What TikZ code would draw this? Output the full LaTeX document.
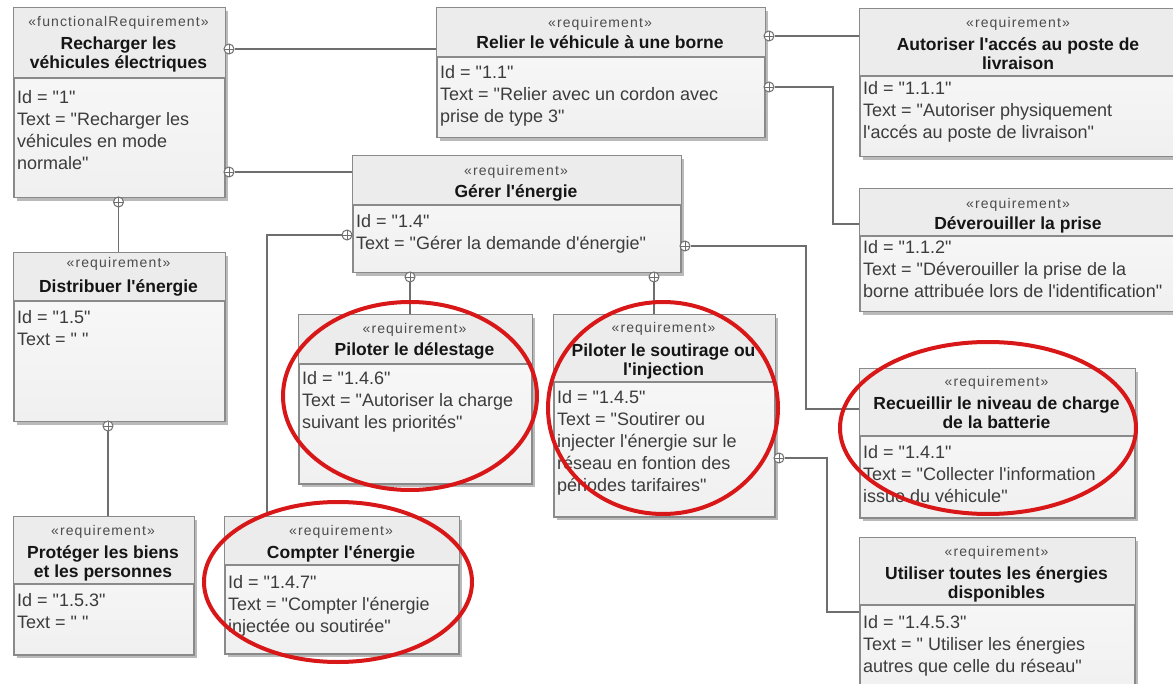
\documentclass[tikz,border=0pt]{standalone}
\usepackage{fontspec}
\newfontfamily\diagfont{Liberation Sans}
\newfontfamily\stereofont[LetterSpace=8]{Liberation Sans}
\usetikzlibrary{shadows}
\definecolor{boxline}{HTML}{8A8A8A}
\definecolor{connline}{HTML}{6E6E6E}
\definecolor{headfill}{HTML}{ECECEC}
\definecolor{bodytop}{HTML}{FAFAFA}
\definecolor{bodybot}{HTML}{F0F0F0}
\definecolor{redmark}{HTML}{D81818}
\definecolor{txtbody}{HTML}{3C3C3C}
\definecolor{txttitle}{HTML}{151515}
\tikzset{
  reqbox/.style={rectangle, draw=boxline, line width=1.5pt, inner sep=0pt,
    top color=bodytop, bottom color=bodybot,
    drop shadow={shadow xshift=3pt, shadow yshift=-3pt, fill=black!45, opacity=0.6}},
  sepline/.style={draw=boxline, line width=1.5pt},
  reqstereo/.style={font=\stereofont\fontsize{14}{16}\selectfont, text=black!70, anchor=base, inner sep=0pt},
  reqtitle/.style={font=\diagfont\fontsize{17.5}{19}\selectfont\bfseries, text=txttitle, anchor=base, inner sep=0pt, align=center},
  reqbody/.style={font=\diagfont\fontsize{18}{22}\selectfont, text=txtbody, anchor=base west, inner sep=0pt, align=left},
  plusmark/.style={circle, draw=connline, fill=white, line width=1pt, minimum size=10pt, inner sep=0pt,
    path picture={\draw[connline, line width=0.9pt]
      (path picture bounding box.north) -- (path picture bounding box.south)
      (path picture bounding box.west) -- (path picture bounding box.east);}},
  link/.style={draw=connline, line width=1.3pt},
  redring/.style={draw=redmark, line width=4pt}
}
\newcommand{\reqheader}[2]{%
  \fill[headfill] ([shift={(0.75pt,-0.75pt)}]#1.north west) rectangle ([shift={(-0.75pt,-#2pt)}]#1.north east);
  \draw[sepline] ([yshift=-#2pt]#1.north west) -- ([yshift=-#2pt]#1.north east);}
\begin{document}
\begin{tikzpicture}[x=1pt,y=-1pt]
\path[use as bounding box, fill=white] (0,0) rectangle (1173,684);
\begin{scope}
\clip (0,0) rectangle (1173,684);
% ---------- boxes ----------
\node[reqbox, minimum width=211pt, minimum height=190pt, anchor=north west] (b1) at (13,7) {};
\reqheader{b1}{71}
\node[reqbox, minimum width=328pt, minimum height=130pt, anchor=north west] (b2) at (436,7) {};
\reqheader{b2}{50}
\node[reqbox, minimum width=320pt, minimum height=148pt, anchor=north west] (b3) at (859,8) {};
\reqheader{b3}{68}
\node[reqbox, minimum width=320pt, minimum height=123pt, anchor=north west] (b4) at (859,188) {};
\reqheader{b4}{48}
\node[reqbox, minimum width=328pt, minimum height=117pt, anchor=north west] (b5) at (352,155) {};
\reqheader{b5}{50}
\node[reqbox, minimum width=211pt, minimum height=169pt, anchor=north west] (b6) at (13,252) {};
\reqheader{b6}{49}
\node[reqbox, minimum width=180pt, minimum height=138pt, anchor=north west] (b7) at (13,516) {};
\reqheader{b7}{68}
\node[reqbox, minimum width=234pt, minimum height=137pt, anchor=north west] (b8) at (224,516) {};
\reqheader{b8}{49}
\node[reqbox, minimum width=233pt, minimum height=169pt, anchor=north west] (b9) at (298,314) {};
\reqheader{b9}{50}
\node[reqbox, minimum width=221pt, minimum height=202pt, anchor=north west] (b10) at (553,314) {};
\reqheader{b10}{68}
\node[reqbox, minimum width=275pt, minimum height=149pt, anchor=north west] (b11) at (859,368) {};
\reqheader{b11}{68}
\node[reqbox, minimum width=275pt, minimum height=160pt, anchor=north west] (b12) at (859,537) {};
\reqheader{b12}{68}
% ---------- texts (base = baseline of the last line) ----------
\node[reqstereo] (b1s) at (118.5,27) {«functionalRequirement»};
\node[reqtitle] (b1t) at (118.5,69) {Recharger les\\véhicules électriques};
\node[reqbody] (b1b) at (17,169.5) {Id = "1"\\Text = "Recharger les\\véhicules en mode\\normale"};

\node[reqstereo] (b2s) at (600,28) {«requirement»};
\node[reqtitle] (b2t) at (600,49) {Relier le véhicule à une borne};
\node[reqbody] (b2b) at (440,122.5) {Id = "1.1"\\Text = "Relier avec un cordon avec\\prise de type 3"};

\node[reqstereo] (b3s) at (1018,28) {«requirement»};
\node[reqtitle] (b3t) at (1018,70) {Autoriser l'accés au poste de\\livraison};
\node[reqbody] (b3b) at (863,138.5) {Id = "1.1.1"\\Text = "Autoriser physiquement\\l'accés au poste de livraison"};

\node[reqstereo] (b4s) at (1018,209) {«requirement»};
\node[reqtitle] (b4t) at (1018,230) {Déverouiller la prise};
\node[reqbody] (b4b) at (863,297.5) {Id = "1.1.2"\\Text = "Déverouiller la prise de la\\borne attribuée lors de l'identification"};

\node[reqstereo] (b5s) at (516,176) {«requirement»};
\node[reqtitle] (b5t) at (516,198) {Gérer l'énergie};
\node[reqbody] (b5b) at (356,249.5) {Id = "1.4"\\Text = "Gérer la demande d'énergie"};

\node[reqstereo] (b6s) at (118.5,268) {«requirement»};
\node[reqtitle] (b6t) at (118.5,293) {Distribuer l'énergie};
\node[reqbody] (b6b) at (17,345.5) {Id = "1.5"\\Text = " "};

\node[reqstereo] (b7s) at (103,535) {«requirement»};
\node[reqtitle] (b7t) at (103,577) {Protéger les biens\\et les personnes};
\node[reqbody] (b7b) at (17,628.5) {Id = "1.5.3"\\Text = " "};

\node[reqstereo] (b8s) at (341,535) {«requirement»};
\node[reqtitle] (b8t) at (341,558) {Compter l'énergie};
\node[reqbody] (b8b) at (228,632.5) {Id = "1.4.7"\\Text = "Compter l'énergie\\injectée ou soutirée"};

\node[reqstereo] (b9s) at (414.5,334) {«requirement»};
\node[reqtitle] (b9t) at (414.5,356) {Piloter le délestage};
\node[reqbody] (b9b) at (302,428.5) {Id = "1.4.6"\\Text = "Autoriser la charge\\suivant les priorités"};

\node[reqstereo] (b10s) at (663.5,333) {«requirement»};
\node[reqtitle] (b10t) at (663.5,376) {Piloter le soutirage ou\\l'injection};
\node[reqbody] (b10b) at (557,491.5) {Id = "1.4.5"\\Text = "Soutirer ou\\injecter l'énergie sur le\\réseau en fontion des\\périodes tarifaires"};

\node[reqstereo] (b11s) at (996.5,387) {«requirement»};
\node[reqtitle] (b11t) at (996.5,429) {Recueillir le niveau de charge\\de la batterie};
\node[reqbody] (b11b) at (863,502.5) {Id = "1.4.1"\\Text = "Collecter l'information\\issue du véhicule"};

\node[reqstereo] (b12s) at (996.5,556) {«requirement»};
\node[reqtitle] (b12t) at (996.5,598) {Utiliser toutes les énergies\\disponibles};
\node[reqbody] (b12b) at (863,672.5) {Id = "1.4.5.3"\\Text = " Utiliser les énergies\\autres que celle du réseau"};
% ---------- containment markers ----------
\node[plusmark] (p1) at (229,49) {};
\node[plusmark] (p2) at (229,172) {};
\node[plusmark] (p3) at (118.5,202) {};
\node[plusmark] (p4) at (108,426) {};
\node[plusmark] (p5) at (769,36) {};
\node[plusmark] (p6) at (769,87) {};
\node[plusmark] (p7) at (347,235) {};
\node[plusmark] (p8) at (410,277) {};
\node[plusmark] (p9) at (654,277) {};
\node[plusmark] (p10) at (685,246) {};
\node[plusmark] (p11) at (779,458) {};
% ---------- connectors ----------
\draw[link] (p1) -- (b2.west |- p1);
\draw[link] (p2) -- (b5.west |- p2);
\draw[link] (p3) -- (p3 |- b6.north);
\draw[link] (p4) -- (p4 |- b7.north);
\draw[link] (p5) -- (b3.west |- p5);
\draw[link] (p6) -| ([shift={(-26pt,-36pt)}]b4.north west) -- ([yshift=-36pt]b4.north west);
\draw[link] (p7) -| ([xshift=43pt]b8.north west);
\draw[link] (p8) -- (p8 |- b9.north);
\draw[link] (p9) -- (p9 |- b10.north);
\draw[link] (p10) -| ([shift={(-53pt,-41pt)}]b11.north west) -- ([yshift=-41pt]b11.north west);
\draw[link] (p11) -| ([shift={(-32pt,-75pt)}]b12.north west) -- ([yshift=-75pt]b12.north west);
% ---------- red highlight rings ----------
\draw[redring] (410,396) ellipse [x radius=127pt, y radius=94pt];
\draw[redring] (663,408) ellipse [x radius=115pt, y radius=106pt];
\draw[redring] (338,582) ellipse [x radius=134pt, y radius=80pt];
\draw[redring] (988,428) ellipse [x radius=148pt, y radius=86pt];
\end{scope}
\end{tikzpicture}
\end{document}
